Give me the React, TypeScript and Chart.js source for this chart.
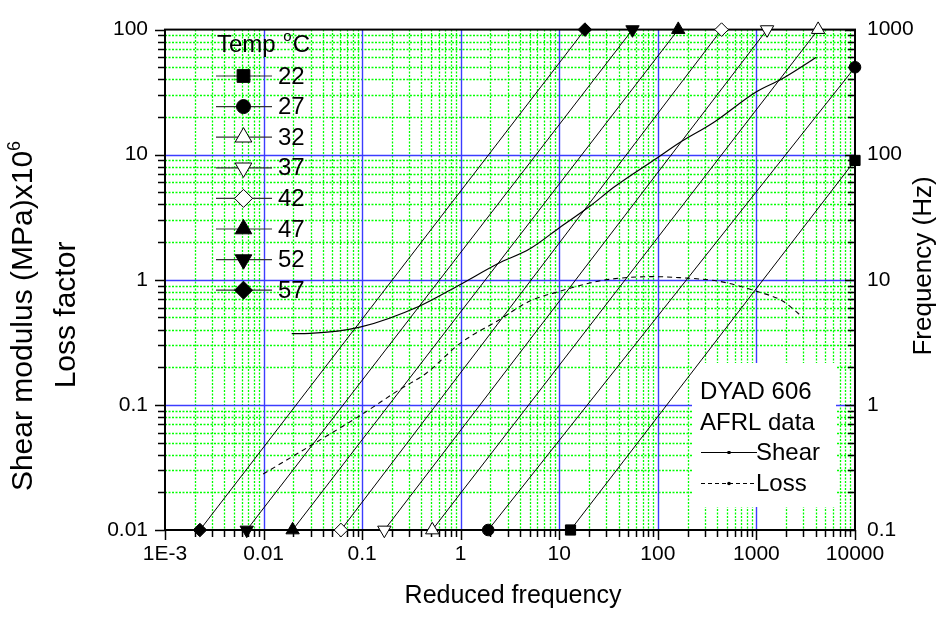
import React, { useEffect, useRef } from 'react';
import { Chart, registerables } from 'chart.js';

Chart.register(...registerables);

// ---------------- DATA ----------------
const tempLabels = ['22', '27', '32', '37', '42', '47', '52', '57'];
const markerStyles = ['rect', 'circle', 'triangle', 'triangle', 'rectRot', 'triangle', 'triangle', 'rectRot'];
const markerRotations = [0, 0, 0, 180, 0, 0, 180, 0];
const markerFilled = [true, true, false, false, false, true, true, true];

// isotherm lines: reduced frequency at 0.1 Hz (start) and end point (reduced freq, Hz)
const isoStartReduced = [13.0, 1.9, 0.514, 0.168, 0.061, 0.0197, 0.00675, 0.00226];
const isoStartHz = [0.1, 0.1, 0.1, 0.1, 0.1, 0.1, 0.1, 0.1];
const isoEndReduced = [10000, 10000, 4227, 1282, 443, 161, 55.3, 18.2];
const isoEndHz = [90, 500, 1000, 1000, 1000, 1000, 1000, 1000];

// master curves
const shearFreq = [0.0193, 0.0296, 0.095, 0.385, 0.98, 2.4, 5.03, 10.1, 20.4, 36.6, 100, 167, 364, 1000, 1844, 4060];
const shearModulus = [0.371, 0.373, 0.418, 0.618, 0.914, 1.35, 1.77, 2.62, 3.87, 5.56, 9.5, 12.5, 18.0, 31.9, 40.6, 60.0];
const lossFreq = [0.0099, 0.031, 0.095, 0.241, 0.451, 0.98, 2.45, 5.03, 10.1, 20.4, 32.6, 89.6, 167, 425, 1000, 1844, 2970];
const lossFactor = [0.028, 0.048, 0.082, 0.133, 0.18, 0.309, 0.478, 0.676, 0.81, 0.942, 1.01, 1.06, 1.04, 0.97, 0.81, 0.676, 0.5];

// axes
const xTickValues = [0.001, 0.01, 0.1, 1, 10, 100, 1000, 10000];
const xTickLabels = ['1E-3', '0.01', '0.1', '1', '10', '100', '1000', '10000'];
const yTickValues = [0.01, 0.1, 1, 10, 100];
const yTickLabels = ['0.01', '0.1', '1', '10', '100'];
const y2TickValues = [0.1, 1, 10, 100, 1000];
const y2TickLabels = ['0.1', '1', '10', '100', '1000'];

const xTitle = 'Reduced frequency';
const yTitle1 = 'Shear modulus (MPa)x10';
const yTitleSup = '6';
const yTitle2 = 'Loss factor';
const y2Title = 'Frequency (Hz)';
const legendTitle = 'Temp ';
const legendTitleSup = 'o';
const legendTitleUnit = 'C';
const boxLines = ['DYAD 606', 'AFRL data'];
const curveNames = ['Shear', 'Loss'];

// ---------------- STYLE ----------------
const FONT = '"Liberation Sans", Arial, Helvetica, sans-serif';
const plotRadius: Record<string, number> = { rect: 7.2, circle: 5.8, triangle: 7.7, rectRot: 6.8 };
const legendRadius: Record<string, number> = { rect: 9, circle: 7, triangle: 9.6, rectRot: 9 };

function labelFor(values: number[], labels: string[]) {
  return (v: any) => {
    const n = Number(v);
    const i = values.findIndex((t) => Math.abs(Math.log10(t) - Math.log10(n)) < 1e-6);
    return i >= 0 ? labels[i] : '';
  };
}

function drawMarker(ctx: CanvasRenderingContext2D, style: string, x: number, y: number, r: number, rotDeg: number, filled: boolean) {
  ctx.save();
  ctx.beginPath();
  let rad = (rotDeg * Math.PI) / 180;
  if (style === 'rect') {
    const s = r * Math.SQRT1_2;
    ctx.rect(x - s, y - s, 2 * s, 2 * s);
  } else if (style === 'circle') {
    ctx.arc(x, y, r, 0, Math.PI * 2);
  } else if (style === 'triangle') {
    ctx.moveTo(x + Math.sin(rad) * r, y - Math.cos(rad) * r);
    rad += (2 * Math.PI) / 3;
    ctx.lineTo(x + Math.sin(rad) * r, y - Math.cos(rad) * r);
    rad += (2 * Math.PI) / 3;
    ctx.lineTo(x + Math.sin(rad) * r, y - Math.cos(rad) * r);
    ctx.closePath();
  } else {
    ctx.moveTo(x - r, y);
    ctx.lineTo(x, y - r);
    ctx.lineTo(x + r, y);
    ctx.lineTo(x, y + r);
    ctx.closePath();
  }
  ctx.fillStyle = filled ? '#000' : '#fff';
  ctx.fill();
  ctx.lineWidth = 1;
  ctx.strokeStyle = '#000';
  ctx.stroke();
  ctx.restore();
}

function drawVertical(ctx: CanvasRenderingContext2D, parts: { text: string; size: number; raise: number }[], baseX: number, centerY: number) {
  ctx.save();
  ctx.translate(baseX, centerY);
  ctx.rotate(-Math.PI / 2);
  ctx.textAlign = 'left';
  ctx.textBaseline = 'alphabetic';
  ctx.fillStyle = '#000';
  let total = 0;
  const widths = parts.map((p) => {
    ctx.font = `${p.size}px ${FONT}`;
    const w = ctx.measureText(p.text).width;
    total += w;
    return w;
  });
  let x = -total / 2;
  parts.forEach((p, i) => {
    ctx.font = `${p.size}px ${FONT}`;
    ctx.fillText(p.text, x, -p.raise);
    x += widths[i];
  });
  ctx.restore();
}

function logValues(min: number, max: number) {
  const out: { v: number; major: boolean }[] = [];
  const k0 = Math.floor(Math.log10(min) + 1e-9);
  const k1 = Math.ceil(Math.log10(max) - 1e-9);
  for (let k = k0; k <= k1; k++) {
    for (let m = 1; m <= 9; m++) {
      const v = m * Math.pow(10, k);
      if (v < min * (1 - 1e-9) || v > max * (1 + 1e-9)) continue;
      out.push({ v, major: m === 1 });
    }
  }
  return out;
}

const customPlugin = {
  id: 'customDraw',
  beforeDatasetsDraw(chart: any) {
    const ctx: CanvasRenderingContext2D = chart.ctx;
    const a = chart.chartArea;
    const xs = chart.scales.x;
    const ys = chart.scales.y;
    const xv = logValues(xs.min, xs.max);
    const yv = logValues(ys.min, ys.max);
    ctx.save();
    // minor grid: green dotted lines
    ctx.strokeStyle = '#00ff00';
    ctx.lineWidth = 1.3;
    ctx.setLineDash([2, 1.5]);
    ctx.beginPath();
    xv.forEach(({ v, major }) => {
      if (major) return;
      const px = Math.round(xs.getPixelForValue(v)) + 0.5;
      ctx.moveTo(px, a.top);
      ctx.lineTo(px, a.bottom);
    });
    yv.forEach(({ v, major }) => {
      if (major) return;
      const py = Math.round(ys.getPixelForValue(v)) + 0.5;
      ctx.moveTo(a.left, py);
      ctx.lineTo(a.right, py);
    });
    ctx.stroke();
    ctx.setLineDash([]);
    // major grid
    ctx.strokeStyle = '#3c3cff';
    ctx.lineWidth = 1.4;
    ctx.beginPath();
    xv.forEach(({ v, major }) => {
      if (!major) return;
      const px = Math.round(xs.getPixelForValue(v)) + 0.5;
      if (px < a.left + 2 || px > a.right - 2) return;
      ctx.moveTo(px, a.top);
      ctx.lineTo(px, a.bottom);
    });
    yv.forEach(({ v, major }) => {
      if (!major) return;
      const py = Math.round(ys.getPixelForValue(v)) + 0.5;
      if (py < a.top + 2 || py > a.bottom - 2) return;
      ctx.moveTo(a.left, py);
      ctx.lineTo(a.right, py);
    });
    ctx.stroke();
    // white box for the material legend
    ctx.fillStyle = '#fff';
    ctx.fillRect(692, 363, 144, 144);
    // frame
    ctx.strokeStyle = '#000';
    ctx.lineWidth = 2;
    ctx.strokeRect(a.left, a.top, a.right - a.left, a.bottom - a.top);
    // ticks
    ctx.lineWidth = 1.5;
    ctx.beginPath();
    xv.forEach(({ v, major }) => {
      const px = Math.round(xs.getPixelForValue(v)) + 0.5;
      ctx.moveTo(px, a.bottom);
      ctx.lineTo(px, a.bottom + (major ? 10 : 7));
    });
    yv.forEach(({ v, major }) => {
      const py = Math.round(ys.getPixelForValue(v)) + 0.5;
      ctx.moveTo(a.left, py);
      ctx.lineTo(a.left - (major ? 10 : 7), py);
      ctx.moveTo(a.right, py);
      ctx.lineTo(a.right - (major ? 10 : 7), py);
    });
    ctx.stroke();
    ctx.restore();
  },
  afterDraw(chart: any) {
    const ctx: CanvasRenderingContext2D = chart.ctx;
    const a = chart.chartArea;
    ctx.save();
    ctx.fillStyle = '#000';
    ctx.textBaseline = 'alphabetic';
    // bottom title
    ctx.font = `25px ${FONT}`;
    ctx.textAlign = 'center';
    ctx.fillText(xTitle, (a.left + a.right) / 2 + 3, 603);
    // left titles
    drawVertical(ctx, [
      { text: yTitle1, size: 30, raise: 0 },
      { text: yTitleSup, size: 18, raise: 12 },
    ], 32, 316);
    drawVertical(ctx, [{ text: yTitle2, size: 30, raise: 0 }], 75, 315);
    // right title
    drawVertical(ctx, [{ text: y2Title, size: 26, raise: 0 }], 931, 266);

    // Temperature legend
    ctx.textAlign = 'left';
    ctx.font = `24px ${FONT}`;
    let tx = 217;
    ctx.fillText(legendTitle, tx, 52);
    tx += ctx.measureText(legendTitle).width;
    ctx.font = `15px ${FONT}`;
    ctx.fillText(legendTitleSup, tx + 1, 41);
    tx += ctx.measureText(legendTitleSup).width + 2;
    ctx.font = `24px ${FONT}`;
    ctx.fillText(legendTitleUnit, tx, 52);
    tempLabels.forEach((lab, i) => {
      const y = 76 + 30.6 * i;
      ctx.strokeStyle = '#333';
      ctx.lineWidth = 1.2;
      ctx.beginPath();
      ctx.moveTo(216, y);
      ctx.lineTo(272, y);
      ctx.stroke();
      const st = markerStyles[i];
      drawMarker(ctx, st, 243.5, y, legendRadius[st], markerRotations[i], markerFilled[i]);
      ctx.fillStyle = '#000';
      ctx.font = `24px ${FONT}`;
      ctx.fillText(lab, 278, y + 7.5);
    });

    // material legend
    ctx.font = `24px ${FONT}`;
    ctx.fillStyle = '#000';
    ctx.fillText(boxLines[0], 700, 399);
    ctx.fillText(boxLines[1], 700, 430);
    ctx.strokeStyle = '#000';
    ctx.lineWidth = 1;
    ctx.beginPath();
    ctx.moveTo(701, 452.5);
    ctx.lineTo(757, 452.5);
    ctx.stroke();
    ctx.fillRect(727.5, 451, 3, 3);
    ctx.setLineDash([4, 3]);
    ctx.beginPath();
    ctx.moveTo(701, 483.5);
    ctx.lineTo(757, 483.5);
    ctx.stroke();
    ctx.setLineDash([]);
    ctx.beginPath();
    ctx.arc(729, 483.5, 1.8, 0, Math.PI * 2);
    ctx.fill();
    ctx.fillText(curveNames[0], 756, 460);
    ctx.fillText(curveNames[1], 756, 491);
    ctx.restore();
  },
};

export default function App() {
  const ref = useRef<HTMLCanvasElement>(null);
  useEffect(() => {
    if (!ref.current) return;
    const isoSets = tempLabels.map((lab, i) => {
      const st = markerStyles[i];
      return {
        label: lab,
        data: [
          { x: isoStartReduced[i], y: isoStartHz[i] },
          { x: isoEndReduced[i], y: isoEndHz[i] },
        ],
        yAxisID: 'y2',
        borderColor: '#000',
        borderWidth: 1,
        pointStyle: st,
        pointRotation: markerRotations[i],
        pointRadius: plotRadius[st],
        pointBackgroundColor: markerFilled[i] ? '#000' : '#fff',
        pointBorderColor: '#000',
        pointBorderWidth: 1,
        clip: false,
      };
    });
    const shearSet = {
      label: curveNames[0],
      data: shearFreq.map((x, i) => ({ x, y: shearModulus[i] })),
      yAxisID: 'y',
      borderColor: '#000',
      borderWidth: 1.2,
      pointRadius: 0,
      cubicInterpolationMode: 'monotone',
    };
    const lossSet = {
      label: curveNames[1],
      data: lossFreq.map((x, i) => ({ x, y: lossFactor[i] })),
      yAxisID: 'y',
      borderColor: '#000',
      borderWidth: 1.1,
      borderDash: [5, 4],
      pointRadius: 0,
      cubicInterpolationMode: 'monotone',
    };
    const tickFont = { family: FONT, size: 21 };
    const chart = new Chart(ref.current, {
      type: 'line',
      data: { datasets: [...isoSets, shearSet, lossSet] as any },
      plugins: [customPlugin as any],
      options: {
        animation: false,
        responsive: false,
        events: [],
        layout: { padding: { top: 20, left: 0, right: 0, bottom: 0 } },
        plugins: { legend: { display: false }, tooltip: { enabled: false }, title: { display: false } },
        scales: {
          x: {
            type: 'logarithmic',
            position: 'bottom',
            min: 0.001,
            max: 10000,
            grid: { display: false, drawTicks: false, drawOnChartArea: false },
            border: { display: false },
            ticks: { autoSkip: false, maxRotation: 0, minRotation: 0, padding: 12, color: '#000', font: tickFont, callback: labelFor(xTickValues, xTickLabels) },
            afterFit: (s: any) => { s.height = 91; },
          },
          y: {
            type: 'logarithmic',
            position: 'left',
            min: 0.01,
            max: 100,
            grid: { display: false, drawTicks: false, drawOnChartArea: false },
            border: { display: false },
            ticks: { autoSkip: false, padding: 17, color: '#000', font: tickFont, callback: labelFor(yTickValues, yTickLabels) },
            afterFit: (s: any) => { s.width = 165; },
          },
          y2: {
            type: 'logarithmic',
            position: 'right',
            min: 0.1,
            max: 1000,
            grid: { display: false, drawTicks: false, drawOnChartArea: false },
            border: { display: false },
            ticks: { autoSkip: false, padding: 12, color: '#000', font: tickFont, callback: labelFor(y2TickValues, y2TickLabels) },
            afterFit: (s: any) => { s.width = 88; },
          },
        },
      } as any,
    });
    return () => chart.destroy();
  }, []);
  return (
    <div style={{ position: 'absolute', left: 0, top: 0, width: 943, height: 621, background: '#fff' }}>
      <canvas ref={ref} width={943} height={621} style={{ display: 'block' }} />
    </div>
  );
}
